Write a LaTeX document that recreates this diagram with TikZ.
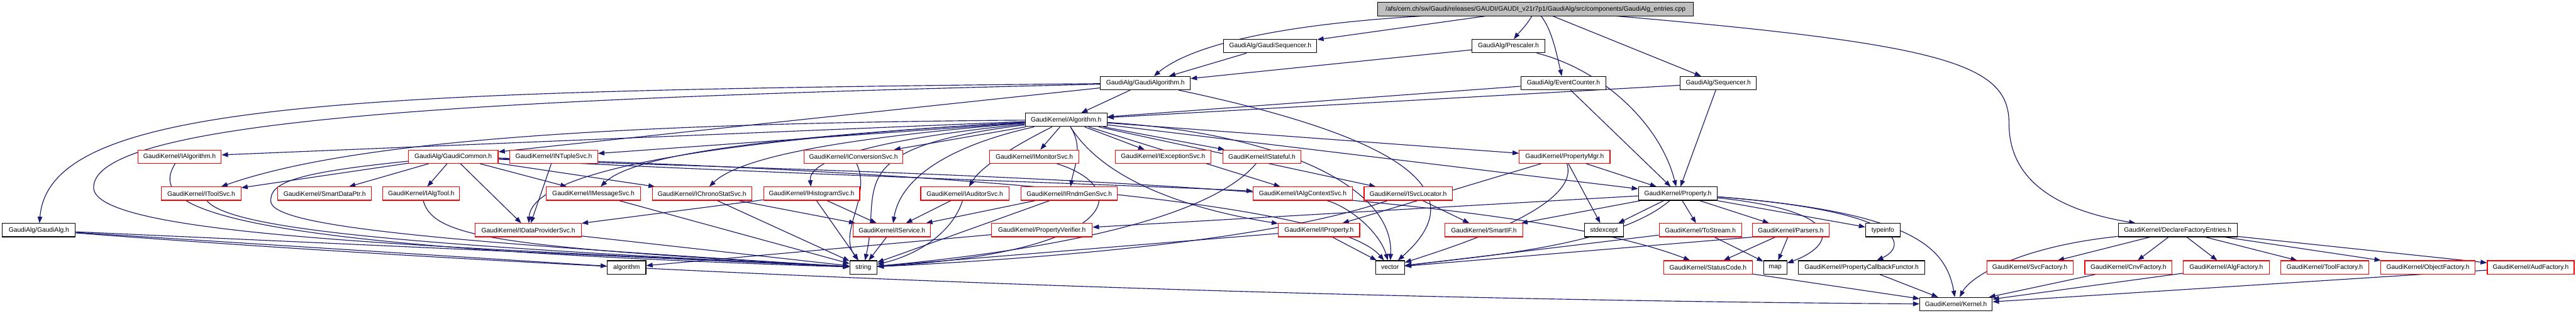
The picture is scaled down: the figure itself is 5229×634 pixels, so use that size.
\documentclass[tikz,border=0pt]{standalone}
\usepackage{fontspec}
\setmainfont{Liberation Sans}
\usetikzlibrary{arrows.meta,backgrounds}
\definecolor{edgec}{HTML}{191970}
\definecolor{rootfill}{HTML}{BFBFBF}
\tikzset{
  nb/.style={draw=black,line width=0.4pt,inner sep=0pt,minimum height=0.27cm,fill=white,
    font=\fontsize{3.74pt}{4.5pt}\selectfont},
  rb/.style={nb,draw=red},
  gb/.style={nb,fill=rootfill},
  e/.style={draw=edgec,line width=0.42pt,-{Triangle[length=1.3mm,width=0.95mm]}},
}
\begin{document}
\begin{tikzpicture}[x=0.01cm,y=-0.01cm]
\useasboundingbox (0,0) rectangle (5229,634);
% row 0
\node[gb,minimum width=6.40cm] (root) at (3117,18.5) {/afs/cern.ch/sw/Gaudi/releases/GAUDI/GAUDI\_v21r7p1/GaudiAlg/src/components/GaudiAlg\_entries.cpp};
% row 1
\node[nb,minimum width=1.89cm] (gseq) at (2578.5,93.5) {GaudiAlg/GaudiSequencer.h};
\node[nb,minimum width=1.48cm] (presc) at (3062,93.5) {GaudiAlg/Prescaler.h};
% row 2
\node[nb,minimum width=1.82cm] (galgo) at (2325,168.5) {GaudiAlg/GaudiAlgorithm.h};
\node[nb,minimum width=1.73cm] (evc) at (3173.5,168.5) {GaudiAlg/EventCounter.h};
\node[nb,minimum width=1.54cm] (seq) at (3488,168.5) {GaudiAlg/Sequencer.h};
% row 3
\node[nb,minimum width=1.66cm] (algo) at (2164,243) {GaudiKernel/Algorithm.h};
% row 4
\node[rb,minimum width=1.69cm] (ialg) at (364.5,317.5) {GaudiKernel/IAlgorithm.h};
\node[rb,minimum width=1.82cm] (gcommon) at (920,317.5) {GaudiAlg/GaudiCommon.h};
\node[rb,minimum width=1.78cm] (intuple) at (1124,317.5) {GaudiKernel/INTupleSvc.h};
\node[rb,minimum width=2.01cm] (iconv) at (1732.5,317.5) {GaudiKernel/IConversionSvc.h};
\node[rb,minimum width=1.81cm] (imon) at (2099.5,317.5) {GaudiKernel/IMonitorSvc.h};
\node[rb,minimum width=1.94cm] (iexc) at (2361,317.5) {GaudiKernel/IExceptionSvc.h};
\node[rb,minimum width=1.59cm] (istateful) at (2561.5,317.5) {GaudiKernel/IStateful.h};
\node[rb,minimum width=1.84cm] (pmgr) at (3176,317.5) {GaudiKernel/PropertyMgr.h};
% row 5
\node[rb,minimum width=1.61cm] (itoolsvc) at (408.5,392.5) {GaudiKernel/IToolSvc.h};
\node[rb,minimum width=1.90cm] (smartdataptr) at (659,392.5) {GaudiKernel/SmartDataPtr.h};
\node[rb,minimum width=1.56cm] (ialgtool) at (855,392.5) {GaudiKernel/IAlgTool.h};
\node[rb,minimum width=1.91cm] (imsg) at (1204.5,392.5) {GaudiKernel/IMessageSvc.h};
\node[rb,minimum width=2.02cm] (ichrono) at (1425,392.5) {GaudiKernel/IChronoStatSvc.h};
\node[rb,minimum width=1.95cm] (ihist) at (1647.5,392.5) {GaudiKernel/IHistogramSvc.h};
\node[rb,minimum width=1.79cm] (iaud) at (1958.5,392.5) {GaudiKernel/IAuditorSvc.h};
\node[rb,minimum width=1.95cm] (irndm) at (2170.5,392.5) {GaudiKernel/IRndmGenSvc.h};
\node[rb,minimum width=2.01cm] (ialgctx) at (2644.5,392.5) {GaudiKernel/IAlgContextSvc.h};
\node[rb,minimum width=1.79cm] (isvcloc) at (2858.5,392.5) {GaudiKernel/ISvcLocator.h};
\node[nb,minimum width=1.60cm] (property) at (3406,392.5) {GaudiKernel/Property.h};
% row 6
\node[nb,minimum width=1.48cm] (gaudialg) at (79,466.5) {GaudiAlg/GaudiAlg.h};
\node[rb,minimum width=2.15cm] (idataprov) at (1072.5,466.5) {GaudiKernel/IDataProviderSvc.h};
\node[rb,minimum width=1.57cm] (iservice) at (1810.5,466.5) {GaudiKernel/IService.h};
\node[rb,minimum width=2.04cm] (pverifier) at (2115,466.5) {GaudiKernel/PropertyVerifier.h};
\node[rb,minimum width=1.65cm] (iproperty) at (2677.5,466.5) {GaudiKernel/IProperty.h};
\node[rb,minimum width=1.58cm] (smartif) at (3012,466.5) {GaudiKernel/SmartIF.h};
\node[nb,minimum width=0.80cm] (stdexcept) at (3256,466.5) {stdexcept};
\node[rb,minimum width=1.67cm] (tostream) at (3451.5,466.5) {GaudiKernel/ToStream.h};
\node[rb,minimum width=1.56cm] (parsers) at (3635,466.5) {GaudiKernel/Parsers.h};
\node[nb,minimum width=0.70cm] (typeinfo) at (3822,466.5) {typeinfo};
\node[nb,minimum width=2.41cm] (declfact) at (4420.5,466.5) {GaudiKernel/DeclareFactoryEntries.h};
% row 7
\node[nb,minimum width=0.78cm] (algorithm) at (1272,542) {algorithm};
\node[nb,minimum width=0.55cm] (string) at (1752.5,542) {string};
\node[nb,minimum width=0.59cm] (vector) at (2821.5,542) {vector};
\node[rb,minimum width=1.80cm] (statuscode) at (3467,542) {GaudiKernel/StatusCode.h};
\node[nb,minimum width=0.47cm] (map) at (3603.5,542) {map};
\node[nb,minimum width=2.56cm] (pcbf) at (3779,542) {GaudiKernel/PropertyCallbackFunctor.h};
\node[rb,minimum width=1.75cm] (svcfact) at (4120.5,542) {GaudiKernel/SvcFactory.h};
\node[rb,minimum width=1.77cm] (cnvfact) at (4320.5,542) {GaudiKernel/CnvFactory.h};
\node[rb,minimum width=1.74cm] (algfact) at (4519,542) {GaudiKernel/AlgFactory.h};
\node[rb,minimum width=1.78cm] (toolfact) at (4719,542) {GaudiKernel/ToolFactory.h};
\node[rb,minimum width=1.91cm] (objfact) at (4928.5,542) {GaudiKernel/ObjectFactory.h};
\node[rb,minimum width=1.76cm] (audfact) at (5137,542) {GaudiKernel/AudFactory.h};
% row 8
\node[nb,minimum width=1.47cm] (kernel) at (3970.5,616.5) {GaudiKernel/Kernel.h};

\begin{scope}[on background layer]
\fill[white] (0,0) rectangle (5229,634);
% root
\draw[e] (root) -- (gseq);
\draw[e] (root) .. controls (2600,50) and (2420,90) .. (galgo);
\draw[e] (root) .. controls (3100,50) and (3080,70) .. (presc);
\draw[e] (root) .. controls (3150,60) and (3160,110) .. (evc);
\draw[e] (root) -- (seq);
\draw[e] (root) .. controls (3950,90) and (4078,130) .. (4078,250) .. controls (4078,380) and (4200,430) .. (declfact);
% level 1-2
\draw[e] (gseq) -- (galgo);
\draw[e] (presc) -- (galgo);
\draw[e] (presc) .. controls (3250,140) and (3370,250) .. (property);
\draw[e] (evc) -- (property);
\draw[e] (seq) -- (property);
\draw[e] (evc) -- (algo);
\draw[e] (seq) -- (algo);
\draw[e] (galgo) -- (algo);
\draw[e] (galgo) .. controls (700,185) and (100,205) .. (gaudialg);
\draw[e] (galgo) .. controls (1000,200) and (190,240) .. (190,380) .. controls (190,480) and (900,500) .. (string);
\draw[e] (galgo) -- (gcommon);
\draw[e] (galgo) .. controls (2950,300) and (2960,420) .. (vector);
% Algorithm.h
\foreach \t in {ialg,intuple,iconv,imon,iexc,istateful,pmgr,ialgctx,isvcloc,property}
  \draw[e] (algo) -- (\t);
\draw[e] (algo) .. controls (1200,250) and (700,290) .. (itoolsvc);
\draw[e] (algo) .. controls (1700,270) and (1300,300) .. (imsg);
\draw[e] (algo) .. controls (1700,280) and (1500,320) .. (ichrono);
\draw[e] (algo) .. controls (1800,280) and (1640,320) .. (ihist);
\draw[e] (algo) .. controls (2050,300) and (1990,340) .. (iaud);
\draw[e] (algo) .. controls (2200,300) and (2180,340) .. (irndm);
\draw[e] (algo) .. controls (1500,280) and (1080,340) .. (idataprov);
\draw[e] (algo) .. controls (1950,290) and (1830,350) .. (iservice);
\draw[e] (algo) .. controls (2250,380) and (2450,430) .. (iproperty);
\draw[e] (algo) .. controls (1700,300) and (1790,380) .. (string);
\draw[e] (algo) .. controls (2600,270) and (2830,380) .. (vector);
% GaudiCommon.h
\draw[e] (gcommon) -- (itoolsvc);
\draw[e] (gcommon) -- (smartdataptr);
\draw[e] (gcommon) -- (ialgtool);
\draw[e] (gcommon) -- (imsg);
\draw[e] (gcommon) -- (ichrono);
\draw[e] (gcommon) -- (idataprov);
\draw[e] (gcommon) .. controls (600,350) and (545,370) .. (550,410) .. controls (560,460) and (900,490) .. (string);
\draw[e] (gcommon) .. controls (1500,345) and (3000,360) .. (statuscode);
\draw[e] (gcommon) .. controls (1800,345) and (2700,400) .. (vector);
\draw[e] (gcommon) .. controls (1500,350) and (2300,375) .. (ialgctx);
% interfaces
\draw[e] (ialg) .. controls (300,420) and (420,500) .. (string);
\draw[e] (itoolsvc) .. controls (470,470) and (900,500) .. (string);
\draw[e] (ialgtool) .. controls (880,480) and (1000,500) .. (string);
\draw[e] (intuple) -- (idataprov);
\draw[e] (ihist) -- (idataprov);
\draw[e] (idataprov) -- (string);
\draw[e] (imsg) -- (string);
\draw[e] (ichrono) -- (string);
\draw[e] (ichrono) -- (iservice);
\draw[e] (ihist) -- (string);
\draw[e] (ihist) -- (iservice);
\draw[e] (iconv) .. controls (1770,400) and (1700,470) .. (string);
\draw[e] (iservice) -- (string);
\draw[e] (iaud) -- (iservice);
\draw[e] (iaud) .. controls (1930,480) and (1850,520) .. (string);
\draw[e] (irndm) -- (iservice);
\draw[e] (irndm) -- (string);
\draw[e] (imon) .. controls (2300,380) and (2280,510) .. (string);
\draw[e] (pverifier) -- (algorithm);
\draw[e] (istateful) .. controls (2450,450) and (2100,510) .. (string);
\draw[e] (isvcloc) .. controls (2600,480) and (2200,520) .. (string);
\draw[e] (isvcloc) -- (smartif);
\draw[e] (ialgctx) .. controls (2740,420) and (2800,470) .. (vector);
\draw[e] (iproperty) -- (vector);
\draw[e] (iproperty) -- (string);
% PropertyMgr / Property
\draw[e] (pmgr) -- (iproperty);
\draw[e] (pmgr) .. controls (3210,420) and (2950,500) .. (vector);
\draw[e] (pmgr) -- (stdexcept);
\draw[e] (pmgr) -- (property);
\draw[e] (property) -- (pverifier);
\draw[e] (property) -- (smartif);
\draw[e] (property) -- (stdexcept);
\draw[e] (property) -- (tostream);
\draw[e] (property) -- (parsers);
\draw[e] (property) -- (typeinfo);
\draw[e] (property) .. controls (3760,430) and (3720,500) .. (map);
\draw[e] (property) .. controls (3880,430) and (3870,500) .. (pcbf);
\draw[e] (property) .. controls (3880,430) and (3950,500) .. (kernel);
\draw[e] (property) .. controls (3280,500) and (3000,520) .. (vector);
\draw[e] (tostream) -- (map);
\draw[e] (tostream) -- (vector);
\draw[e] (parsers) -- (map);
\draw[e] (parsers) -- (statuscode);
\draw[e] (parsers.south west) -- (vector);
\draw[e] (statuscode) -- (kernel);
\draw[e] (pcbf) -- (kernel);
% GaudiAlg.h
\draw[e] (gaudialg) -- (string);
\draw[e] (gaudialg) -- (algorithm);
\draw[e] (gaudialg) .. controls (1500,575) and (3000,610) .. (kernel);
% factories
\foreach \t in {svcfact,cnvfact,algfact,toolfact,objfact,audfact}
  \draw[e] (declfact) -- (\t);
\draw[e] (declfact) .. controls (4100,500) and (4000,560) .. (kernel);
\draw[e] (cnvfact) -- (kernel);
\draw[e] (algfact) -- (kernel);
\draw[e] (audfact) -- (kernel);
\end{scope}
\end{tikzpicture}
\end{document}
